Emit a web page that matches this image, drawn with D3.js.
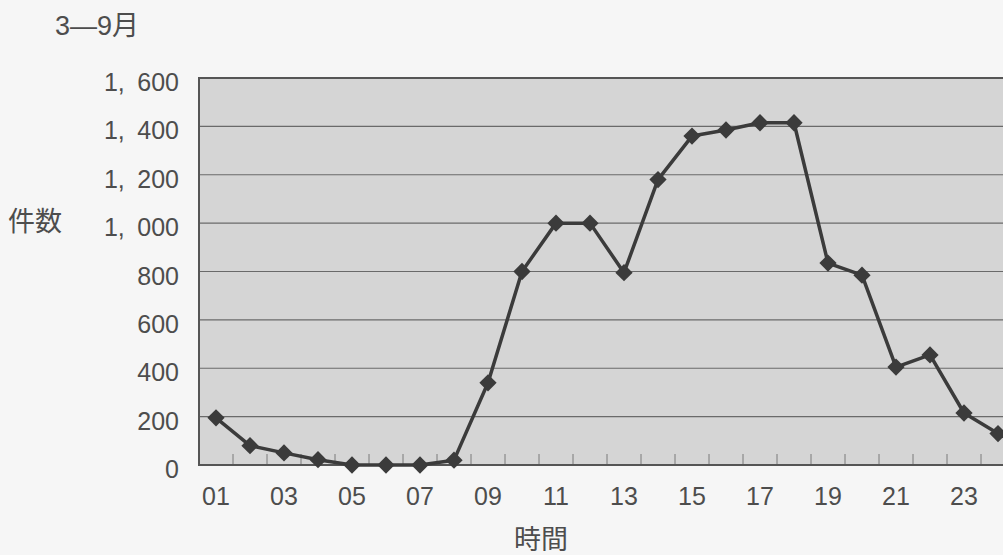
<!DOCTYPE html>
<html>
<head>
    <meta charset="utf-8">
    <style>
        body {
            margin: 0;
            background: #f6f6f6;
        }

        svg {
            display: block;
            font-family: "Liberation Sans", "Noto Sans CJK JP", sans-serif;
        }

        .axis .domain {
            display: none;
        }

        .axis .tick text {
            font-size: 25px;
            fill: #4d4d4d;
        }

        .label {
            font-size: 27px;
            fill: #4d4d4d;
        }
    </style>
</head>
<body>
    <svg width="1003" height="555"></svg>

<script src="https://d3js.org/d3.v7.min.js"></script>
<script>
    // hours of the day (categories)
    let hours = ["01", "02", "03", "04", "05", "06", "07", "08", "09", "10", "11", "12",
                 "13", "14", "15", "16", "17", "18", "19", "20", "21", "22", "23", "24"];
    // number of cases, March - September
    let counts = [195, 80, 50, 22, 0, 0, 0, 20, 340, 800, 1000, 1000,
                  795, 1180, 1360, 1385, 1415, 1415, 835, 785, 405, 455, 215, 130];
    // labelled ticks
    let xTickLabels = ["01", "03", "05", "07", "09", "11", "13", "15", "17", "19", "21", "23"];
    let yTicks = [0, 200, 400, 600, 800, 1000, 1200, 1400, 1600];

    let svg = d3.select("svg");
    let margin = { top: 78, left: 199, bottom: 465 };

    let x = d3.scaleBand()
        .domain(hours)
        .range([margin.left, margin.left + 34 * hours.length])
        .padding(0);

    let y = d3.scaleLinear()
        .domain([0, 1600])
        .range([margin.bottom, margin.top]);

    // plot background
    svg.append("rect")
        .attr("x", x.range()[0])
        .attr("y", y(1600))
        .attr("width", x.range()[1] - x.range()[0])
        .attr("height", y(0) - y(1600))
        .style("fill", "#d5d5d5");

    // gridlines
    svg.append("g")
        .selectAll("line")
        .data(yTicks.slice(1, -1))
        .join("line")
        .attr("x1", x.range()[0])
        .attr("x2", x.range()[1])
        .attr("y1", d => y(d))
        .attr("y2", d => y(d))
        .style("stroke", "#6a6a6a")
        .style("stroke-width", 1.2);

    // small tick marks on the category boundaries
    svg.append("g")
        .selectAll("line")
        .data(hours.slice(1))
        .join("line")
        .attr("x1", d => x(d))
        .attr("x2", d => x(d))
        .attr("y1", y(0))
        .attr("y2", y(0) - 11)
        .style("stroke", "#7a7a7a")
        .style("stroke-width", 1);

    // plot border
    svg.append("rect")
        .attr("x", x.range()[0])
        .attr("y", y(1600))
        .attr("width", x.range()[1] - x.range()[0])
        .attr("height", y(0) - y(1600))
        .style("fill", "none")
        .style("stroke", "#555")
        .style("stroke-width", 2);

    let yAxis = d3.axisLeft(y)
        .tickValues(yTicks)
        .tickSize(0)
        .tickPadding(20)
        .tickFormat(d => d3.format(",")(d).replace(",", ",\u2002"));

    svg.append("g")
        .attr("class", "y axis")
        .attr("transform", `translate(${margin.left},0)`)
        .call(yAxis)
        .selectAll("text")
        .attr("dy", "0.5em");

    let xAxis = d3.axisBottom(x)
        .tickValues(xTickLabels)
        .tickSize(0)
        .tickPadding(21);

    svg.append("g")
        .attr("class", "x axis")
        .attr("transform", `translate(0,${margin.bottom})`)
        .call(xAxis)
        .selectAll("text")
        .attr("dy", "0.75em");

    // line
    let line = d3.line()
        .x((d, i) => x(hours[i]) + x.bandwidth() / 2)
        .y(d => y(d));

    svg.append("path")
        .datum(counts)
        .attr("d", line)
        .style("fill", "none")
        .style("stroke", "#3b3b3b")
        .style("stroke-width", 3.5)
        .style("stroke-linejoin", "round");

    // diamond markers
    svg.append("g")
        .selectAll("path")
        .data(counts)
        .join("path")
        .attr("d", d3.symbol(d3.symbolDiamond2, 190))
        .attr("transform", (d, i) => `translate(${x(hours[i]) + x.bandwidth() / 2},${y(d)})`)
        .style("fill", "#3b3b3b");

    // labels
    svg.append("text")
        .attr("class", "label")
        .attr("x", 55)
        .attr("y", 35)
        .text("3—9月");

    svg.append("text")
        .attr("class", "label")
        .attr("x", 8)
        .attr("y", 231)
        .text("件数");

    svg.append("text")
        .attr("class", "label")
        .attr("x", 541)
        .attr("y", 549)
        .style("text-anchor", "middle")
        .text("時間");
</script>
</body>
</html>
